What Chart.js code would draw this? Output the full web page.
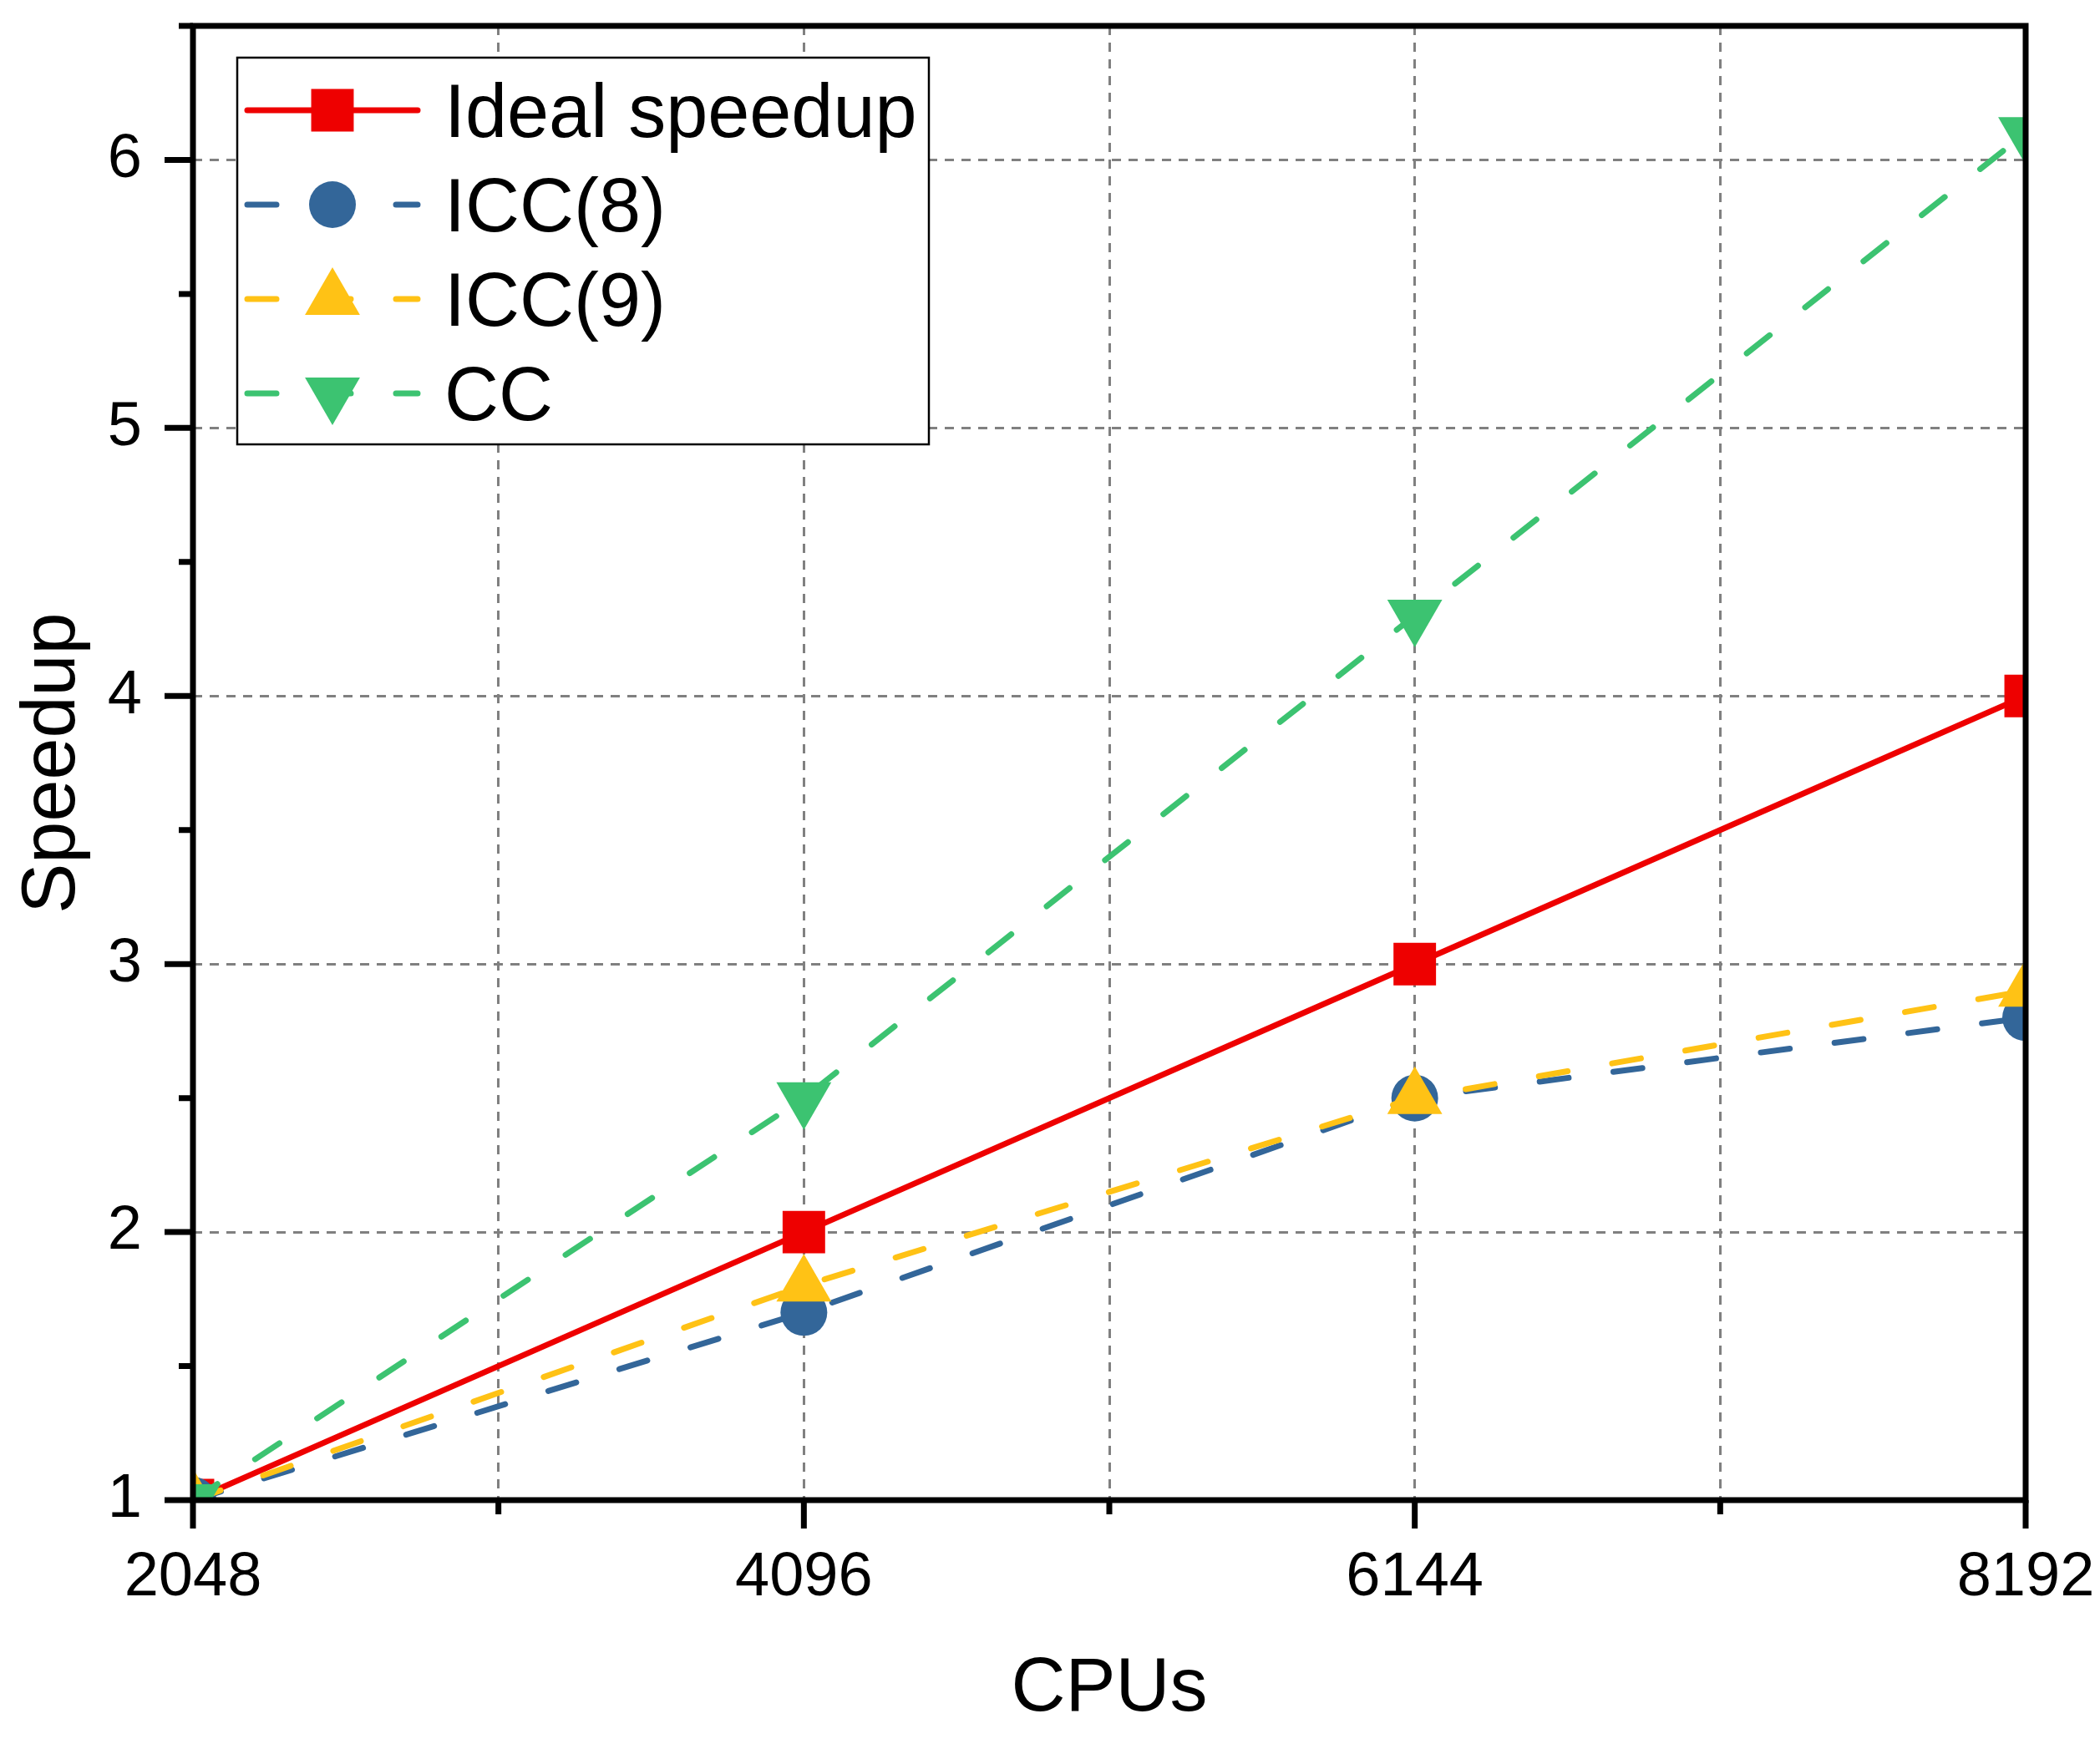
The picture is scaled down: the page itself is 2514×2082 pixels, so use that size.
<!DOCTYPE html>
<html>
<head>
<meta charset="utf-8">
<script src="https://cdn.jsdelivr.net/npm/chart.js@4.4.1/dist/chart.umd.min.js"></script>
<style>
html, body { margin: 0; padding: 0; background: #fff; }
canvas { display: block; }
</style>
</head>
<body>
<canvas id="speedupChart" width="2514" height="2082"></canvas>
<script>
const cpus = [2048, 4096, 6144, 8192];
const idealSpeedup = [1, 2, 3, 4];
const icc8Speedup = [1, 1.7, 2.5, 2.8];
const icc9Speedup = [1, 1.8, 2.5, 2.9];
const ccSpeedup = [1, 2.5, 4.3, 6.1];
const xTickLabels = [2048, 4096, 6144, 8192];
const yTickLabels = [1, 2, 3, 4, 5, 6];

const FONT = "'Liberation Sans', Arial, sans-serif";
const lineDash = [35, 54];
const gridGray = '#808080';
const clear = 'rgba(0,0,0,0)';

function toPoints(values) {
    return cpus.map((c, i) => ({ x: c, y: values[i] }));
}

function series(label, values, color, style, radius, extra) {
    return Object.assign({
        label: label,
        data: toPoints(values),
        borderColor: color,
        backgroundColor: color,
        pointBackgroundColor: color,
        pointBorderWidth: 0,
        pointStyle: style,
        pointRadius: radius,
        pointHoverRadius: radius,
        borderWidth: 7,
        borderCapStyle: 'round',
        tension: 0,
        clip: 0
    }, extra || {});
}

// axis frame plus outward major/minor ticks, drawn over the data like Origin does
const frameAndTicks = {
    id: 'frameAndTicks',
    afterDatasetsDraw(chart) {
        const { ctx, chartArea: a, scales: { x, y } } = chart;
        ctx.save();
        ctx.strokeStyle = '#000';
        ctx.lineWidth = 7;
        ctx.lineCap = 'butt';
        ctx.setLineDash([]);
        ctx.beginPath();
        x.ticks.forEach(t => {
            const px = x.getPixelForValue(t.value);
            const len = xTickLabels.includes(t.value) ? 34 : 17;
            ctx.moveTo(px, a.bottom);
            ctx.lineTo(px, a.bottom + len);
        });
        y.ticks.forEach(t => {
            const py = y.getPixelForValue(t.value);
            const len = yTickLabels.includes(t.value) ? 34 : 17;
            ctx.moveTo(a.left, py);
            ctx.lineTo(a.left - len, py);
        });
        ctx.stroke();
        ctx.strokeRect(a.left, a.top, a.right - a.left, a.bottom - a.top);
        ctx.restore();
    }
};

// Origin-style legend: line segment with the marker in the middle
const seriesLegend = {
    id: 'seriesLegend',
    afterDraw(chart) {
        const { ctx, chartArea: a } = chart;
        const left = a.left + 53, top = a.top + 38;
        const width = 828, height = 463;
        ctx.save();
        ctx.fillStyle = '#fff';
        ctx.fillRect(left, top, width, height);
        ctx.strokeStyle = '#000';
        ctx.lineWidth = 2.5;
        ctx.setLineDash([]);
        ctx.strokeRect(left, top, width, height);

        chart.data.datasets.forEach((ds, i) => {
            const rowY = top + 63 + i * 113;
            ctx.strokeStyle = ds.borderColor;
            ctx.lineWidth = ds.borderWidth;
            ctx.lineCap = 'round';
            ctx.setLineDash(ds.borderDash || []);
            ctx.beginPath();
            ctx.moveTo(left + 12, rowY);
            ctx.lineTo(left + 216, rowY);
            ctx.stroke();
            ctx.setLineDash([]);

            ctx.fillStyle = ds.pointBackgroundColor;
            Chart.helpers.drawPoint(ctx, {
                pointStyle: ds.pointStyle,
                radius: ds.pointRadius,
                rotation: ds.pointRotation || 0,
                borderWidth: 0
            }, left + 114, rowY);

            ctx.fillStyle = '#000';
            ctx.font = '90px ' + FONT;
            ctx.textAlign = 'left';
            ctx.textBaseline = 'alphabetic';
            ctx.fillText(ds.label, left + 248, rowY + 32);
        });
        ctx.restore();
    }
};

const ctx = document.getElementById('speedupChart').getContext('2d');
const speedupChart = new Chart(ctx, {
    type: 'line',
    data: {
        datasets: [
            series('Ideal speedup', idealSpeedup, '#ee0000', 'rect', 36, { order: 3 }),
            series('ICC(8)', icc8Speedup, '#336699', 'circle', 28, { borderDash: lineDash, order: 2 }),
            series('ICC(9)', icc9Speedup, '#ffc215', 'triangle', 38, { borderDash: lineDash, order: 1 }),
            series('CC', ccSpeedup, '#3cc371', 'triangle', 38, { borderDash: lineDash, pointRotation: 180, order: 0 })
        ]
    },
    options: {
        responsive: false,
        devicePixelRatio: 1,
        animation: false,
        events: [],
        layout: {
            autoPadding: false,
            padding: { top: 31, right: 89, left: 0, bottom: 0 }
        },
        plugins: {
            legend: { display: false },
            tooltip: { enabled: false }
        },
        scales: {
            x: {
                type: 'linear',
                min: 2048,
                max: 8192,
                afterFit(scale) {
                    scale.height = 286;
                    scale.paddingTop = 0;
                    scale.paddingBottom = 0;
                },
                ticks: {
                    stepSize: 1024,
                    autoSkip: false,
                    maxRotation: 0,
                    padding: 0,
                    color: '#000',
                    font: { family: FONT, size: 74 },
                    callback: v => xTickLabels.includes(v) ? String(v) : ''
                },
                // invisible tick marks only used as label offset; real ticks come from the plugin
                grid: {
                    drawTicks: true,
                    tickLength: 49,
                    tickColor: clear,
                    lineWidth: 3,
                    color: c => (c.tick && c.tick.value > 2048 && c.tick.value < 8192) ? gridGray : clear
                },
                border: { display: false, dash: [11, 9] },
                title: {
                    display: true,
                    text: 'CPUs',
                    color: '#000',
                    font: { family: FONT, size: 90 },
                    padding: { top: 0, bottom: 5 }
                }
            },
            y: {
                min: 1,
                max: 6.5,
                afterFit(scale) {
                    scale.width = 231;
                    scale.paddingTop = 0;
                    scale.paddingBottom = 0;
                },
                ticks: {
                    stepSize: 0.5,
                    autoSkip: false,
                    padding: 0,
                    color: '#000',
                    font: { family: FONT, size: 74 },
                    callback: v => yTickLabels.includes(v) ? String(v) : ''
                },
                grid: {
                    drawTicks: true,
                    tickLength: 61,
                    tickColor: clear,
                    lineWidth: 3,
                    color: c => (c.tick && Number.isInteger(c.tick.value) && c.tick.value > 1) ? gridGray : clear
                },
                border: { display: false, dash: [11, 9] },
                title: {
                    display: true,
                    text: 'Speedup',
                    color: '#000',
                    font: { family: FONT, size: 90 },
                    padding: { top: 10, bottom: 0 }
                }
            }
        }
    },
    plugins: [frameAndTicks, seriesLegend]
});
</script>
</body>
</html>
